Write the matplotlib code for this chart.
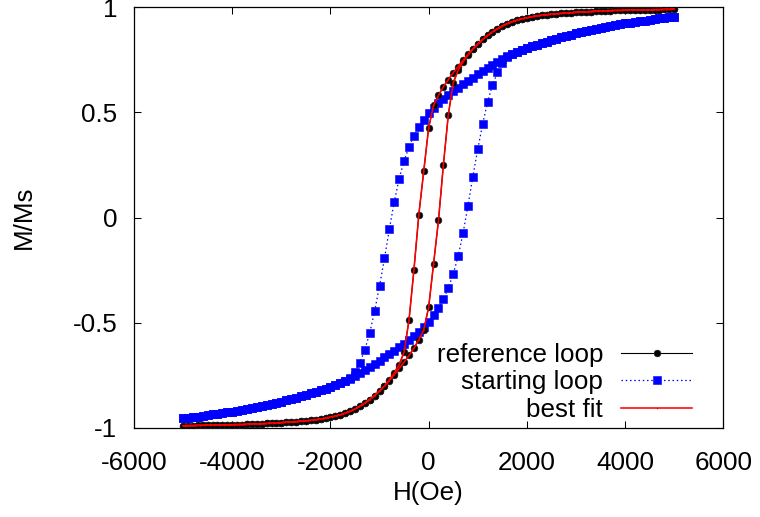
import matplotlib
matplotlib.use("Agg")
import matplotlib.pyplot as plt

plt.rcParams['font.family'] = ['Liberation Sans', 'DejaVu Sans']

# Applied field grid (Oe), ascending, one value per measured point of each branch
H_FIELD = [
    -5000, -4900, -4800, -4700, -4600, -4500, -4400, -4300, -4200, -4100,
    -4000, -3900, -3800, -3700, -3600, -3500, -3400, -3300, -3200, -3100,
    -3000, -2900, -2800, -2700, -2600, -2500, -2400, -2300, -2200, -2100,
    -2000, -1900, -1800, -1700, -1600, -1500, -1400, -1300, -1200, -1100,
    -1000, -900, -800, -700, -600, -500, -400, -300, -200, -100,
    0,
    100, 200, 300, 400, 500, 600, 700, 800, 900, 1000,
    1100, 1200, 1300, 1400, 1500, 1600, 1700, 1800, 1900, 2000,
    2100, 2200, 2300, 2400, 2500, 2600, 2700, 2800, 2900, 3000,
    3100, 3200, 3300, 3400, 3500, 3600, 3700, 3800, 3900, 4000,
    4100, 4200, 4300, 4400, 4500, 4600, 4700, 4800, 4900, 5000,
]

# Reference loop, descending-field (upper) branch, listed in ascending H order
REF_UPPER = [
    -0.991, -0.990, -0.990, -0.989, -0.989, -0.988, -0.988, -0.987, -0.987, -0.986,
    -0.986, -0.985, -0.985, -0.984, -0.983, -0.982, -0.981, -0.980, -0.978, -0.977,
    -0.976, -0.974, -0.973, -0.971, -0.969, -0.967, -0.965, -0.962, -0.959, -0.955,
    -0.950, -0.945, -0.939, -0.931, -0.922, -0.911, -0.898, -0.883, -0.866, -0.847,
    -0.825, -0.801, -0.772, -0.740, -0.700, -0.640, -0.488, -0.250, 0.014, 0.222,
    0.427,
    0.535, 0.581, 0.622, 0.656, 0.688, 0.718, 0.748, 0.776, 0.803, 0.826,
    0.847, 0.866, 0.883, 0.898, 0.911, 0.922, 0.931, 0.939, 0.945, 0.950,
    0.955, 0.959, 0.962, 0.965, 0.967, 0.969, 0.971, 0.973, 0.974, 0.976,
    0.977, 0.978, 0.980, 0.981, 0.982, 0.983, 0.984, 0.985, 0.985, 0.986,
    0.986, 0.987, 0.987, 0.988, 0.988, 0.989, 0.989, 0.990, 0.990, 0.991,
]

# Reference loop, ascending-field (lower) branch
REF_LOWER = [
    -0.991, -0.990, -0.990, -0.989, -0.989, -0.988, -0.988, -0.987, -0.987, -0.986,
    -0.986, -0.985, -0.985, -0.984, -0.983, -0.982, -0.981, -0.980, -0.978, -0.977,
    -0.976, -0.974, -0.973, -0.971, -0.969, -0.967, -0.965, -0.962, -0.959, -0.955,
    -0.950, -0.945, -0.939, -0.931, -0.922, -0.911, -0.898, -0.883, -0.866, -0.847,
    -0.826, -0.803, -0.776, -0.748, -0.718, -0.688, -0.656, -0.622, -0.581, -0.535,
    -0.427,
    -0.222, -0.014, 0.250, 0.488, 0.640, 0.700, 0.740, 0.772, 0.801, 0.825,
    0.847, 0.866, 0.883, 0.898, 0.911, 0.922, 0.931, 0.939, 0.945, 0.950,
    0.955, 0.959, 0.962, 0.965, 0.967, 0.969, 0.971, 0.973, 0.974, 0.976,
    0.977, 0.978, 0.980, 0.981, 0.982, 0.983, 0.984, 0.985, 0.985, 0.986,
    0.986, 0.987, 0.987, 0.988, 0.988, 0.989, 0.989, 0.990, 0.990, 0.991,
]

# Starting loop, upper branch
START_UPPER = [
    -0.956, -0.953, -0.950, -0.947, -0.944, -0.940, -0.937, -0.934, -0.930, -0.927,
    -0.923, -0.919, -0.915, -0.911, -0.907, -0.903, -0.898, -0.893, -0.887, -0.882,
    -0.876, -0.870, -0.864, -0.858, -0.851, -0.844, -0.837, -0.830, -0.822, -0.814,
    -0.806, -0.797, -0.788, -0.776, -0.762, -0.735, -0.690, -0.630, -0.550, -0.445,
    -0.325, -0.195, -0.055, 0.075, 0.185, 0.270, 0.335, 0.390, 0.432, 0.465,
    0.497,
    0.522, 0.545, 0.565, 0.583, 0.600, 0.617, 0.633, 0.650, 0.666, 0.682,
    0.698, 0.713, 0.727, 0.741, 0.754, 0.766, 0.777, 0.788, 0.797, 0.806,
    0.814, 0.822, 0.830, 0.837, 0.844, 0.851, 0.858, 0.864, 0.870, 0.876,
    0.882, 0.887, 0.893, 0.898, 0.903, 0.907, 0.911, 0.915, 0.919, 0.923,
    0.927, 0.930, 0.934, 0.937, 0.940, 0.944, 0.947, 0.950, 0.953, 0.956,
]

# Starting loop, lower branch
START_LOWER = [
    -0.956, -0.953, -0.950, -0.947, -0.944, -0.940, -0.937, -0.934, -0.930, -0.927,
    -0.923, -0.919, -0.915, -0.911, -0.907, -0.903, -0.898, -0.893, -0.887, -0.882,
    -0.876, -0.870, -0.864, -0.858, -0.851, -0.844, -0.837, -0.830, -0.822, -0.814,
    -0.806, -0.797, -0.788, -0.777, -0.766, -0.754, -0.741, -0.727, -0.713, -0.698,
    -0.682, -0.666, -0.650, -0.633, -0.617, -0.600, -0.583, -0.565, -0.545, -0.522,
    -0.497,
    -0.465, -0.432, -0.390, -0.335, -0.270, -0.185, -0.075, 0.055, 0.195, 0.325,
    0.445, 0.550, 0.630, 0.690, 0.735, 0.762, 0.776, 0.788, 0.797, 0.806,
    0.814, 0.822, 0.830, 0.837, 0.844, 0.851, 0.858, 0.864, 0.870, 0.876,
    0.882, 0.887, 0.893, 0.898, 0.903, 0.907, 0.911, 0.915, 0.919, 0.923,
    0.927, 0.930, 0.934, 0.937, 0.940, 0.944, 0.947, 0.950, 0.953, 0.956,
]

# Best fit (coincides with the reference loop in the picture)
FIT_UPPER = REF_UPPER
FIT_LOWER = REF_LOWER

X_TICKS = [-6000, -4000, -2000, 0, 2000, 4000, 6000]
Y_TICKS = [-1, -0.5, 0, 0.5, 1]
Y_TICK_LABELS = ['-1', '-0.5', '0', '0.5', '1']
X_LABEL = 'H(Oe)'
Y_LABEL = 'M/Ms'
LEGEND_LABELS = ['reference loop', 'starting loop', 'best fit']


def loop(h, upper, lower):
    # measurement order: field swept down along the upper branch, then back up
    hx = list(reversed(h)) + list(h)
    my = list(reversed(upper)) + list(lower)
    return hx, my


W, Hpx = 760, 517
FS = 26 * 72 / 100.0  # 26 px font

fig = plt.figure(figsize=(W / 100, Hpx / 100), dpi=100)
L, R, B, T = 134.0, 723.3, 427.7, 7.3
ax = fig.add_axes([L / W, (Hpx - B) / Hpx, (R - L) / W, (B - T) / Hpx])

hx, my = loop(H_FIELD, START_UPPER, START_LOWER)
l2, = ax.plot(hx, my, color='#0000ff', linestyle=(0, (1.2, 2.2)), linewidth=0.9,
              marker='s', markersize=5.3, markeredgewidth=0.4,
              markerfacecolor='#0000ff', markeredgecolor='#0000ff', zorder=2)

hx, my = loop(H_FIELD, REF_UPPER, REF_LOWER)
l1, = ax.plot(hx, my, color='black', linewidth=0.8,
              marker='o', markersize=4.8, markeredgewidth=0.5,
              markerfacecolor='black', markeredgecolor='#222222', zorder=3)

hx, my = loop(H_FIELD, FIT_UPPER, FIT_LOWER)
l3, = ax.plot(hx, my, color='#ff0000', linewidth=1.15,
              marker='.', markersize=1.5, markeredgewidth=0.3,
              markerfacecolor='#cc0000', markeredgecolor='#cc0000', zorder=4)

ax.set_xlim(-6000, 6000)
ax.set_ylim(-1, 1)
ax.set_xticks(X_TICKS)
ax.set_xticklabels([str(v) for v in X_TICKS])
ax.set_yticks(Y_TICKS)
ax.set_yticklabels(Y_TICK_LABELS)

ax.tick_params(axis='both', which='major', direction='in', length=5, width=0.75,
               top=True, right=True, labelsize=FS, colors='black')
ax.tick_params(axis='y', pad=12)
ax.tick_params(axis='x', pad=17)
for s in ax.spines.values():
    s.set_linewidth(0.9)
    s.set_color('black')

fig.text(428.6 / W, 1 - 493 / Hpx, X_LABEL, ha='center', va='center', fontsize=FS)
fig.text(24 / W, 1 - 217.5 / Hpx, Y_LABEL, ha='center', va='center', fontsize=FS,
         rotation=90)

leg = ax.legend([l1, l2, l3], LEGEND_LABELS, loc='center right',
                bbox_to_anchor=(692 / W, 1 - 382.5 / Hpx), bbox_transform=fig.transFigure,
                markerfirst=False, frameon=False, fontsize=FS, handlelength=2.73,
                handletextpad=0.69, labelspacing=0.12, borderpad=0, borderaxespad=0,
                numpoints=1)

fig.savefig('out.png', dpi=100)
